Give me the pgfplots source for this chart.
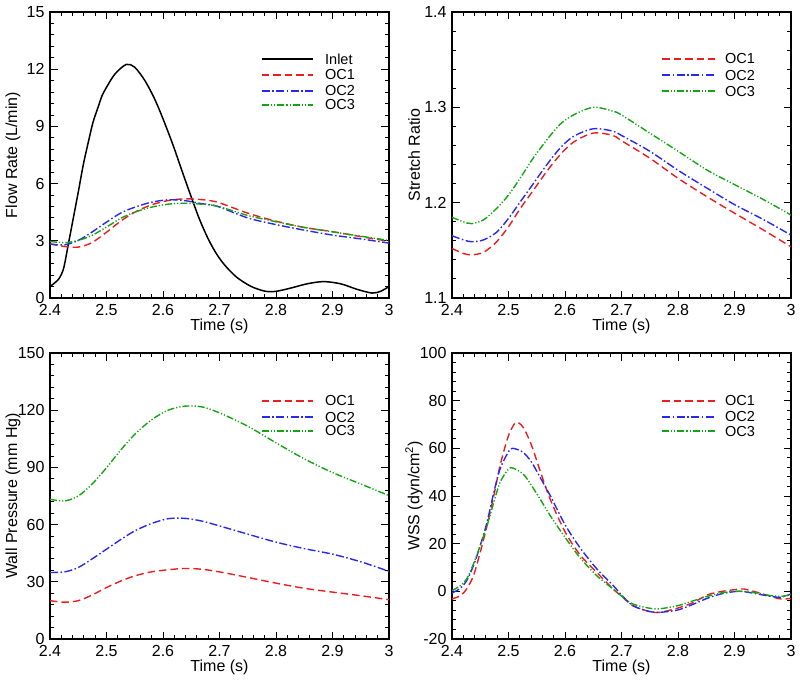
\documentclass[border=0pt]{standalone}
\usepackage{fontspec}
\setmainfont{Liberation Sans}
\usepackage{pgfplots}
\pgfplotsset{compat=1.18}
\definecolor{ocred}{RGB}{235,30,30}
\definecolor{ocblue}{RGB}{40,40,240}
\definecolor{ocgreen}{RGB}{20,165,20}
\tikzset{
  oc1/.style={color=ocred, line width=1.4pt, dash pattern=on 7.5pt off 4pt},
  oc2/.style={color=ocblue, line width=1.4pt, dash pattern=on 8pt off 2.5pt on 1.5pt off 2.5pt},
  oc3/.style={color=ocgreen, line width=1.4pt, dash pattern=on 7pt off 2pt on 1.2pt off 2pt on 1.2pt off 2pt},
  inl/.style={color=black, line width=1.5pt, solid},
  legtext/.style={anchor=west, inner sep=0pt, font=\fontsize{14.5}{16}\selectfont},
  legline/.style={line width=1.7pt},
}
\pgfplotsset{
  panel/.style={
    scale only axis, width=339pt, height=286pt,
    xmin=2.4, xmax=3, xtick={2.4,2.5,2.6,2.7,2.8,2.9,3},
    minor x tick num=4, minor y tick num=4,
    tick align=inside, tick pos=both,
    major tick length=7.5pt, minor tick length=4pt,
    every tick/.append style={black, line width=0.9pt},
    axis line style={line width=1.2pt},
    /pgf/number format/assume math mode=true,
    tick label style={font=\fontsize{16}{18}\selectfont},
    xticklabel style={yshift=-3pt},
    yticklabel style={inner sep=1pt, xshift=-4.3pt},
    label style={font=\fontsize{16}{18}\selectfont},
    xlabel={Time (s)},
    xlabel style={at={(axis description cs:0.5,-0.115)}, anchor=base},
    ylabel style={at={(axis description cs:-0.109,0.5)}, anchor=center},
  },
}
\begin{document}
\begin{tikzpicture}
\useasboundingbox (0pt,0pt) rectangle (800pt,681pt);
% ---------------- Top left: flow rate
\begin{axis}[panel, at={(50pt,383pt)}, anchor=south west,
  ymin=0, ymax=15, ytick={0,3,6,9,12,15},
  ylabel={Flow Rate (L/min)}]
\addplot[inl, smooth] table {
2.400 0.60
2.415 0.98
2.424 1.55
2.432 2.75
2.441 4.15
2.450 5.55
2.459 7.0
2.468 8.2
2.476 9.2
2.485 10.0
2.492 10.6
2.500 11.05
2.515 11.75
2.535 12.25
2.550 12.1
2.568 11.4
2.585 10.45
2.600 9.4
2.618 8.0
2.635 6.55
2.653 5.05
2.665 4.1
2.680 3.1
2.695 2.3
2.710 1.7
2.730 1.1
2.755 0.62
2.780 0.36
2.800 0.35
2.826 0.52
2.856 0.75
2.885 0.86
2.915 0.74
2.944 0.45
2.970 0.26
2.985 0.35
3.000 0.6
};
\addplot[oc1, smooth] table {
2.400 2.84
2.426 2.70
2.450 2.67
2.474 2.90
2.500 3.45
2.526 4.05
2.550 4.50
2.579 4.88
2.609 5.11
2.638 5.20
2.668 5.16
2.697 5.02
2.750 4.45
2.800 4.03
2.850 3.70
2.900 3.48
2.950 3.22
3.000 2.97
};
\addplot[oc2, smooth] table {
2.400 2.83
2.426 2.79
2.450 3.02
2.474 3.45
2.500 3.98
2.526 4.47
2.550 4.76
2.579 5.02
2.609 5.15
2.638 5.11
2.668 4.95
2.697 4.80
2.750 4.20
2.800 3.85
2.850 3.56
2.900 3.30
2.950 3.10
3.000 2.88
};
\addplot[oc3, smooth] table {
2.400 2.97
2.426 2.90
2.450 3.02
2.474 3.28
2.500 3.72
2.526 4.19
2.550 4.50
2.579 4.76
2.609 4.92
2.638 4.97
2.668 4.92
2.697 4.81
2.750 4.33
2.800 4.00
2.850 3.70
2.900 3.47
2.950 3.24
3.000 3.02
};
% legend
\addplot[inl] coordinates {(2.7752,12.535) (2.8655,12.535)};
\addplot[oc1, legline] coordinates {(2.7752,11.696) (2.8655,11.696)};
\addplot[oc2, legline] coordinates {(2.7752,10.857) (2.8655,10.857)};
\addplot[oc3, legline] coordinates {(2.7752,10.122) (2.8655,10.122)};
\node[legtext] at (axis cs:2.8867,12.535) {Inlet};
\node[legtext] at (axis cs:2.8867,11.696) {OC1};
\node[legtext] at (axis cs:2.8867,10.857) {OC2};
\node[legtext] at (axis cs:2.8867,10.122) {OC3};
\end{axis}
% ---------------- Top right: stretch ratio
\begin{axis}[panel, at={(452pt,383pt)}, anchor=south west,
  ymin=1.1, ymax=1.4, ytick={1.1,1.2,1.3,1.4},
  yticklabel style={/pgf/number format/.cd, fixed, precision=1},
  ylabel={Stretch Ratio},
  ylabel style={at={(axis description cs:-0.112,0.5)}}]
\addplot[oc1, smooth] table {
2.400 1.1520
2.420 1.1467
2.435 1.1453
2.456 1.1480
2.479 1.1590
2.500 1.1747
2.521 1.1940
2.544 1.2130
2.568 1.2330
2.591 1.2500
2.615 1.2635
2.650 1.2730
2.685 1.2705
2.700 1.2650
2.750 1.2467
2.800 1.2256
2.852 1.2060
2.900 1.1890
2.952 1.1710
3.000 1.1537
};
\addplot[oc2, smooth] table {
2.400 1.1653
2.420 1.1610
2.435 1.1590
2.456 1.1610
2.479 1.1690
2.500 1.1835
2.521 1.2010
2.544 1.2200
2.568 1.2400
2.591 1.2570
2.615 1.2695
2.650 1.2775
2.685 1.2750
2.700 1.2705
2.750 1.2540
2.800 1.2340
2.852 1.2150
2.900 1.1980
2.952 1.1820
3.000 1.1660
};
\addplot[oc3, smooth] table {
2.400 1.1846
2.420 1.1800
2.435 1.1780
2.456 1.1820
2.479 1.1940
2.500 1.2080
2.521 1.2260
2.544 1.2470
2.568 1.2660
2.591 1.2820
2.615 1.2920
2.650 1.3000
2.685 1.2960
2.700 1.2920
2.750 1.2730
2.800 1.2540
2.852 1.2340
2.900 1.2190
2.952 1.2030
3.000 1.1870
};
% legend
\addplot[oc1, legline] coordinates {(2.7717,1.3507) (2.8655,1.3507)};
\addplot[oc2, legline] coordinates {(2.7717,1.3339) (2.8655,1.3339)};
\addplot[oc3, legline] coordinates {(2.7717,1.3171) (2.8655,1.3171)};
\node[legtext] at (axis cs:2.8832,1.3507) {OC1};
\node[legtext] at (axis cs:2.8832,1.3339) {OC2};
\node[legtext] at (axis cs:2.8832,1.3171) {OC3};
\end{axis}
% ---------------- Bottom left: wall pressure
\begin{axis}[panel, at={(50pt,42pt)}, anchor=south west,
  ymin=0, ymax=150, ytick={0,30,60,90,120,150},
  ylabel={Wall Pressure (mm Hg)}]
\addplot[oc1, smooth] table {
2.400 20.1
2.426 19.3
2.450 20.1
2.474 23.0
2.500 27.0
2.526 30.5
2.550 33.1
2.579 35.2
2.609 36.3
2.638 37.0
2.668 36.6
2.700 35.2
2.750 32.3
2.800 29.3
2.850 26.6
2.900 24.6
2.950 22.7
3.000 20.6
};
\addplot[oc2, smooth] table {
2.400 34.9
2.426 35.2
2.450 37.5
2.474 41.9
2.500 47.1
2.526 52.3
2.550 56.7
2.579 60.5
2.609 63.1
2.638 63.3
2.668 61.9
2.700 59.3
2.750 55.0
2.800 50.8
2.850 47.4
2.900 44.5
2.950 40.5
3.000 35.5
};
\addplot[oc3, smooth] table {
2.400 73.3
2.426 72.4
2.450 75.0
2.474 81.1
2.500 89.8
2.526 99.4
2.550 107.3
2.579 114.8
2.609 120.0
2.638 122.1
2.668 121.8
2.700 118.6
2.750 111.6
2.800 102.9
2.850 94.5
2.900 87.3
2.950 81.3
3.000 75.2
};
% legend
\addplot[oc1, legline] coordinates {(2.7752,124.83) (2.8655,124.83)};
\addplot[oc2, legline] coordinates {(2.7752,116.43) (2.8655,116.43)};
\addplot[oc3, legline] coordinates {(2.7752,109.09) (2.8655,109.09)};
\node[legtext] at (axis cs:2.8867,124.83) {OC1};
\node[legtext] at (axis cs:2.8867,116.43) {OC2};
\node[legtext] at (axis cs:2.8867,109.09) {OC3};
\end{axis}
% ---------------- Bottom right: WSS
\begin{axis}[panel, at={(452pt,42pt)}, anchor=south west,
  ymin=-20, ymax=100, ytick={-20,0,20,40,60,80,100},
  ylabel={WSS (dyn/cm\textsuperscript{2})},
  ylabel style={at={(axis description cs:-0.112,0.5)}}]
\addplot[oc1, smooth] table {
2.400 -3.2
2.415 -1.8
2.426 1.0
2.438 6.6
2.450 16.4
2.462 27.6
2.474 40.1
2.485 52.7
2.500 65.3
2.513 70.8
2.526 68.8
2.541 61.1
2.556 50.5
2.574 38.5
2.600 25.0
2.626 15.5
2.656 8.0
2.685 1.0
2.700 -2.0
2.720 -6.0
2.750 -8.5
2.768 -8.8
2.800 -7.0
2.828 -4.6
2.852 -1.5
2.876 -0.1
2.900 0.7
2.916 1.0
2.940 -0.4
2.964 -2.1
2.982 -3.2
3.000 -3.0
};
\addplot[oc2, smooth] table {
2.400 -0.7
2.415 1.3
2.426 4.5
2.438 10.8
2.450 19.2
2.462 29.0
2.474 41.5
2.485 51.3
2.500 58.6
2.508 60.0
2.526 58.3
2.541 54.1
2.556 47.8
2.574 40.1
2.600 28.0
2.626 18.5
2.656 9.5
2.685 2.5
2.700 -1.5
2.720 -6.0
2.750 -8.5
2.768 -8.8
2.800 -7.8
2.828 -5.3
2.852 -2.9
2.876 -1.1
2.900 -0.1
2.916 -0.1
2.940 -1.1
2.964 -2.1
2.982 -2.5
3.000 -1.1
};
\addplot[oc3, smooth] table {
2.400 0.3
2.415 2.4
2.426 5.2
2.438 11.5
2.450 19.2
2.462 27.6
2.474 37.3
2.485 45.7
2.500 51.3
2.508 51.7
2.526 49.2
2.541 44.3
2.556 38.7
2.574 31.7
2.600 22.7
2.626 14.3
2.656 6.6
2.685 1.0
2.700 -2.0
2.720 -5.3
2.750 -7.1
2.768 -7.3
2.800 -6.0
2.828 -3.9
2.852 -2.1
2.876 -0.7
2.900 0.0
2.916 0.0
2.940 -0.7
2.964 -1.8
2.982 -2.1
3.000 -1.5
};
% legend
\addplot[oc1, legline] coordinates {(2.7717,79.86) (2.8655,79.86)};
\addplot[oc2, legline] coordinates {(2.7717,73.15) (2.8655,73.15)};
\addplot[oc3, legline] coordinates {(2.7717,67.27) (2.8655,67.27)};
\node[legtext] at (axis cs:2.8832,79.86) {OC1};
\node[legtext] at (axis cs:2.8832,73.15) {OC2};
\node[legtext] at (axis cs:2.8832,67.27) {OC3};
\end{axis}
\end{tikzpicture}
\end{document}
